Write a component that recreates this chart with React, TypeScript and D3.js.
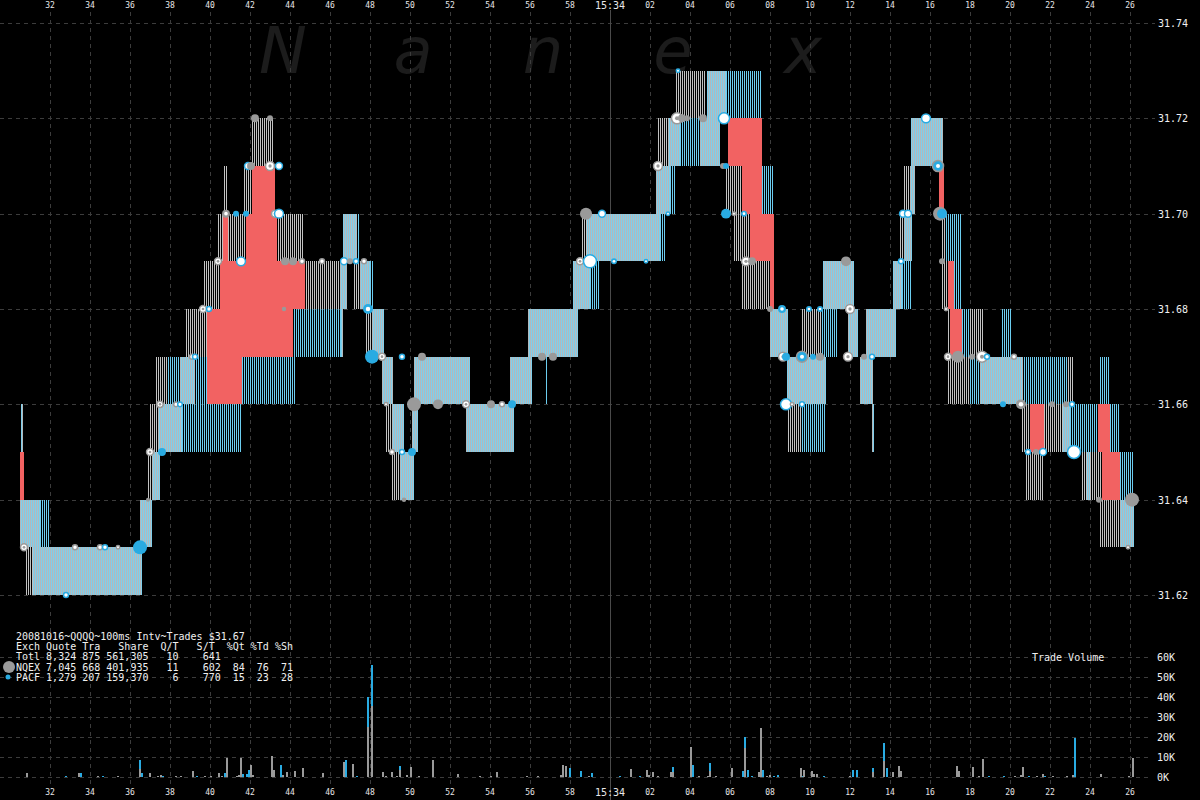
import React, { useEffect } from 'react';
import * as d3 from 'd3';

const W = 1200;
const H = 800;

// time = seconds after 15:33:00
const timeTicks = d3.range(32, 87, 2);
const priceTicks = [31.62, 31.64, 31.66, 31.68, 31.7, 31.72, 31.74];
const volumeTicks = [0, 10000, 20000, 30000, 40000, 50000, 60000];

// quote spreads: [tStart, tEnd, low, high, style]  S=dense, G=sparse NQEX, B=sparse PACF, R=crossed
const quotes: [number, number, number, number, string][] = [
  [30.5, 31.5, 31.63, 31.64, 'S'], [31.5, 32.0, 31.63, 31.64, 'B'],
  [30.55, 30.65, 31.65, 31.66, 'S'], [30.5, 30.7, 31.64, 31.65, 'R'],
  [30.8, 31.15, 31.62, 31.63, 'G'], [31.15, 36.6, 31.62, 31.63, 'S'],
  [36.5, 37.1, 31.63, 31.64, 'S'],
  [36.9, 37.1, 31.64, 31.65, 'G'], [37.1, 37.5, 31.64, 31.65, 'S'],
  [37.0, 37.4, 31.65, 31.66, 'G'], [37.4, 38.6, 31.65, 31.66, 'S'], [38.6, 41.6, 31.65, 31.66, 'B'],
  [37.25, 37.9, 31.66, 31.67, 'G'], [37.9, 38.5, 31.66, 31.67, 'B'], [38.5, 39.25, 31.66, 31.67, 'S'],
  [39.25, 39.85, 31.66, 31.67, 'B'],
  [39.85, 41.6, 31.66, 31.67, 'R'], [41.6, 44.25, 31.66, 31.67, 'B'],
  [38.75, 39.85, 31.67, 31.68, 'G'], [39.85, 44.15, 31.67, 31.68, 'R'], [44.15, 46.6, 31.67, 31.68, 'B'],
  [39.7, 40.5, 31.68, 31.69, 'G'], [40.5, 44.75, 31.68, 31.69, 'R'], [44.75, 46.75, 31.68, 31.69, 'G'],
  [40.4, 40.65, 31.69, 31.7, 'G'], [40.65, 40.9, 31.69, 31.7, 'R'], [40.9, 41.8, 31.69, 31.7, 'G'],
  [41.8, 43.35, 31.69, 31.7, 'R'], [43.35, 44.65, 31.69, 31.7, 'G'],
  [40.65, 40.85, 31.7, 31.71, 'G'], [41.7, 42.1, 31.7, 31.71, 'G'], [42.1, 43.25, 31.7, 31.71, 'R'],
  [42.1, 43.15, 31.71, 31.72, 'G'],
  [46.65, 47.35, 31.69, 31.7, 'S'], [47.35, 47.5, 31.69, 31.7, 'B'],
  [46.5, 46.85, 31.68, 31.69, 'S'], [47.2, 47.5, 31.68, 31.69, 'G'], [47.5, 48.0, 31.68, 31.69, 'S'],
  [48.0, 48.2, 31.68, 31.69, 'B'],
  [46.55, 46.65, 31.67, 31.68, 'S'], [47.8, 48.1, 31.67, 31.68, 'G'], [48.1, 48.7, 31.67, 31.68, 'S'],
  [48.6, 49.15, 31.66, 31.67, 'S'],
  [48.8, 49.1, 31.65, 31.66, 'G'], [49.1, 49.7, 31.65, 31.66, 'S'],
  [49.1, 49.5, 31.64, 31.65, 'G'], [49.5, 50.2, 31.64, 31.65, 'S'],
  [50.1, 50.4, 31.65, 31.66, 'S'],
  [50.2, 53.0, 31.66, 31.67, 'S'],
  [52.8, 55.2, 31.65, 31.66, 'S'],
  [55.0, 56.1, 31.66, 31.67, 'S'], [56.75, 56.85, 31.66, 31.67, 'B'],
  [55.9, 58.4, 31.67, 31.68, 'S'],
  [58.15, 59.0, 31.68, 31.69, 'S'], [59.0, 59.5, 31.68, 31.69, 'B'],
  [58.6, 58.85, 31.69, 31.7, 'G'], [58.85, 62.5, 31.69, 31.7, 'S'], [62.5, 62.8, 31.69, 31.7, 'B'],
  [62.3, 63.0, 31.7, 31.71, 'S'], [63.0, 63.3, 31.7, 31.71, 'B'],
  [62.4, 62.9, 31.71, 31.72, 'G'], [62.9, 63.5, 31.71, 31.72, 'S'], [63.5, 64.5, 31.71, 31.72, 'B'],
  [64.5, 65.5, 31.71, 31.72, 'S'],
  [63.3, 64.8, 31.72, 31.73, 'G'], [64.85, 65.8, 31.72, 31.73, 'S'], [65.8, 67.6, 31.72, 31.73, 'B'],
  [65.9, 67.6, 31.71, 31.72, 'R'],
  [65.8, 66.6, 31.7, 31.71, 'G'], [66.6, 67.6, 31.7, 31.71, 'R'], [67.6, 68.15, 31.7, 31.71, 'B'],
  [66.2, 67.0, 31.69, 31.7, 'G'], [67.0, 68.2, 31.69, 31.7, 'R'],
  [66.6, 68.0, 31.68, 31.69, 'G'], [68.0, 68.2, 31.68, 31.69, 'R'],
  [68.0, 68.9, 31.67, 31.68, 'S'],
  [68.85, 70.8, 31.66, 31.67, 'S'],
  [68.85, 69.6, 31.65, 31.66, 'G'], [69.6, 70.8, 31.65, 31.66, 'B'],
  [69.6, 70.6, 31.67, 31.68, 'G'], [70.6, 71.4, 31.67, 31.68, 'B'],
  [70.65, 72.2, 31.68, 31.69, 'S'],
  [71.9, 72.4, 31.67, 31.68, 'S'], [72.8, 74.3, 31.67, 31.68, 'S'],
  [72.5, 73.15, 31.66, 31.67, 'S'], [73.1, 73.2, 31.65, 31.66, 'S'],
  [74.15, 74.6, 31.68, 31.69, 'S'], [74.6, 75.1, 31.68, 31.69, 'B'],
  [74.5, 74.7, 31.69, 31.7, 'G'], [74.7, 75.1, 31.69, 31.7, 'S'],
  [74.7, 75.0, 31.7, 31.71, 'G'], [75.0, 75.25, 31.7, 31.71, 'S'],
  [75.05, 76.65, 31.71, 31.72, 'S'],
  [76.45, 76.7, 31.7, 31.71, 'R'],
  [76.6, 76.8, 31.69, 31.7, 'G'], [76.8, 77.6, 31.69, 31.7, 'B'],
  [76.6, 76.9, 31.68, 31.69, 'G'], [76.9, 77.2, 31.68, 31.69, 'R'], [77.2, 77.6, 31.68, 31.69, 'B'],
  [76.9, 77.0, 31.67, 31.68, 'G'], [77.0, 77.6, 31.67, 31.68, 'R'], [77.6, 78.0, 31.67, 31.68, 'B'],
  [78.0, 78.65, 31.67, 31.68, 'G'], [79.55, 80.1, 31.67, 31.68, 'B'],
  [76.9, 78.0, 31.66, 31.67, 'G'], [78.0, 78.5, 31.66, 31.67, 'B'], [78.5, 80.65, 31.66, 31.67, 'S'],
  [80.65, 82.85, 31.66, 31.67, 'B'], [82.85, 83.15, 31.66, 31.67, 'G'], [84.45, 85.0, 31.66, 31.67, 'B'],
  [80.6, 81.0, 31.65, 31.66, 'G'], [81.0, 81.7, 31.65, 31.66, 'R'], [81.7, 82.65, 31.65, 31.66, 'G'],
  [82.65, 83.0, 31.65, 31.66, 'S'], [83.0, 84.35, 31.65, 31.66, 'B'], [84.4, 85.0, 31.65, 31.66, 'R'],
  [85.0, 85.5, 31.65, 31.66, 'B'],
  [80.8, 81.65, 31.64, 31.65, 'G'], [83.6, 83.85, 31.64, 31.65, 'G'], [83.85, 84.0, 31.64, 31.65, 'S'],
  [84.0, 84.6, 31.64, 31.65, 'G'], [84.6, 85.5, 31.64, 31.65, 'R'], [85.5, 86.15, 31.64, 31.65, 'B'],
  [84.5, 85.5, 31.63, 31.64, 'G'], [85.5, 86.2, 31.63, 31.64, 'S'],
];

// trades: [time, price, kind, shares]
const trades: [number, number, string, number][] = [
  [30.7, 31.63, 'wg', 1600], [32.8, 31.62, 'wb', 900], [33.25, 31.63, 'wg', 900], [34.5, 31.63, 'wg', 900],
  [34.75, 31.63, 'wb', 900], [35.4, 31.63, 'wg', 500], [36.5, 31.63, 'b', 5000], [36.9, 31.64, 'g', 400],
  [37.0, 31.65, 'wg', 1600], [37.6, 31.65, 'b', 1600], [37.5, 31.66, 'wg', 1400], [38.3, 31.66, 'wg', 800],
  [38.5, 31.66, 'wb', 800], [39.1, 31.67, 'wg', 900], [39.25, 31.67, 'wb', 900], [39.65, 31.68, 'wg', 1600],
  [39.95, 31.68, 'wb', 900], [40.4, 31.69, 'wg', 1600], [41.55, 31.69, 'wb', 2500], [40.8, 31.7, 'gw', 1600],
  [41.3, 31.7, 'b', 900], [41.8, 31.7, 'b', 900], [43.25, 31.7, 'wg', 1600], [43.45, 31.7, 'wb', 2500],
  [41.9, 31.71, 'wb', 1600], [42.05, 31.71, 'g', 1600], [43.0, 31.71, 'wg', 2500], [43.45, 31.71, 'wb', 1600],
  [42.25, 31.72, 'g', 1600], [43.0, 31.72, 'g', 900], [43.75, 31.69, 'g', 1600], [44.15, 31.69, 'g', 1600],
  [44.6, 31.69, 'wg', 900], [45.6, 31.69, 'wg', 900], [46.7, 31.69, 'wb', 1600], [47.0, 31.69, 'g', 900],
  [47.3, 31.69, 'wb', 900], [47.7, 31.69, 'wg', 900], [43.7, 31.68, 'g', 500], [47.9, 31.68, 'bw', 2500],
  [48.1, 31.67, 'b', 5000], [48.6, 31.67, 'wg', 1600], [49.6, 31.67, 'wb', 900], [50.6, 31.67, 'g', 1600],
  [48.8, 31.66, 'wg', 500], [50.2, 31.66, 'g', 5000], [51.4, 31.66, 'g', 2500], [52.8, 31.66, 'wg', 1600],
  [54.05, 31.66, 'g', 1600], [54.6, 31.66, 'wg', 900], [55.1, 31.66, 'b', 1600], [49.1, 31.65, 'wg', 900],
  [49.6, 31.65, 'wb', 900], [50.1, 31.65, 'b', 1600], [49.7, 31.64, 'g', 500], [56.6, 31.67, 'g', 1600],
  [57.15, 31.67, 'g', 1600], [58.8, 31.7, 'g', 3700], [59.6, 31.7, 'wb', 1600], [58.5, 31.69, 'wg', 1600],
  [59.0, 31.69, 'wb', 5000], [60.2, 31.69, 'bw', 900], [61.8, 31.69, 'wb', 500],
  [62.9, 31.7, 'wb', 500], [62.4, 31.71, 'wg', 2500], [63.4, 31.73, 'wb', 500], [63.35, 31.72, 'wg', 3700],
  [63.6, 31.72, 'g', 1600], [63.85, 31.72, 'g', 900], [64.65, 31.72, 'g', 1600], [65.7, 31.72, 'wb', 3700],
  [65.65, 31.71, 'g', 900], [65.8, 31.71, 'b', 900], [65.8, 31.7, 'b', 2500], [66.2, 31.7, 'wg', 500],
  [66.7, 31.7, 'bw', 900], [66.8, 31.69, 'wg', 2500], [67.1, 31.69, 'g', 1600], [68.0, 31.68, 'g', 900],
  [68.6, 31.68, 'bw', 1600], [68.65, 31.67, 'wg', 2500], [68.8, 31.67, 'b', 1600], [69.6, 31.67, 'bg', 3700],
  [70.15, 31.67, 'b', 900], [70.5, 31.67, 'g', 1600], [69.95, 31.68, 'bw', 900], [70.5, 31.68, 'bw', 900],
  [71.8, 31.69, 'g', 2500], [72.0, 31.68, 'wg', 2500], [68.8, 31.66, 'wb', 3700], [69.1, 31.66, 'wg', 500],
  [69.6, 31.66, 'wb', 900], [71.9, 31.67, 'wg', 2500], [72.7, 31.67, 'g', 900], [73.1, 31.67, 'wb', 900],
  [75.8, 31.72, 'wb', 2500], [76.4, 31.71, 'bg', 3700], [74.65, 31.7, 'wb', 1600], [74.9, 31.7, 'wb', 1600],
  [76.5, 31.7, 'g', 5000], [76.6, 31.7, 'b', 2500], [74.55, 31.69, 'wb', 900], [76.6, 31.69, 'g', 900],
  [76.8, 31.68, 'wg', 500], [76.9, 31.67, 'wg', 1600], [77.4, 31.67, 'g', 3700], [78.1, 31.67, 'g', 900],
  [78.6, 31.67, 'wg', 3700], [78.85, 31.67, 'wb', 900], [80.2, 31.67, 'wg', 900], [79.65, 31.66, 'b', 900],
  [80.55, 31.66, 'gw', 2500], [82.1, 31.66, 'g', 900], [82.8, 31.66, 'g', 900], [83.1, 31.66, 'wb', 900],
  [80.9, 31.65, 'wb', 900], [81.3, 31.65, 'g', 900], [81.65, 31.65, 'wb', 1600], [83.2, 31.65, 'wb', 5000],
  [84.45, 31.64, 'g', 900], [86.1, 31.64, 'g', 5000], [85.9, 31.63, 'wg', 500],
];

// volume per 100ms interval: [time, NQEX shares, PACF shares]
const volumes: [number, number, number][] = [
  [30.85, 1800, 0], [32.8, 0, 300], [33.45, 1800, 0], [33.55, 0, 1800], [34.4, 300, 0], [34.65, 0, 300],
  [35.4, 300, 0], [36.5, 4000, 4500], [36.6, 0, 2000], [37.0, 2000, 0], [37.4, 700, 0], [37.55, 1000, 0],
  [37.65, 0, 300], [38.3, 300, 0], [38.55, 300, 0], [39.15, 3200, 0], [39.35, 0, 300], [39.75, 500, 0],
  [40.05, 600, 0], [40.45, 2000, 0], [40.6, 700, 0], [40.75, 0, 1800], [40.85, 9700, 0], [41.35, 300, 0],
  [41.45, 1000, 0], [41.55, 9700, 0], [41.65, 0, 1700], [41.85, 0, 1700], [41.95, 0, 3300], [42.05, 6000, 0],
  [42.15, 1000, 0], [43.1, 10500, 0], [43.2, 3300, 0], [43.55, 0, 6000], [43.65, 1000, 0], [43.85, 2500, 0],
  [44.25, 3000, 0], [44.65, 4700, 0], [45.65, 2000, 0], [46.7, 7700, 0], [46.8, 0, 8300], [47.15, 6300, 0],
  [47.35, 0, 700], [47.9, 25000, 15000], [48.1, 35500, 20500], [48.65, 2300, 0], [48.8, 300, 0],
  [49.1, 2500, 0], [49.35, 300, 0], [49.5, 3500, 2000], [49.85, 1000, 0], [50.05, 4800, 0], [50.45, 300, 0],
  [51.15, 8500, 0], [52.4, 1500, 0], [53.5, 300, 0], [54.05, 300, 0], [54.35, 2500, 0], [55.85, 300, 0],
  [56.4, 300, 0], [57.55, 1000, 0], [57.65, 6000, 0], [57.8, 5700, 0], [58.0, 0, 4700], [58.55, 0, 2800],
  [58.95, 300, 0], [59.1, 0, 2200], [60.5, 0, 300], [61.05, 4000, 0], [61.5, 0, 300], [61.85, 3700, 0],
  [61.95, 1200, 0], [62.15, 2300, 0], [62.4, 300, 0], [63.05, 2700, 0], [63.15, 2700, 2300],
  [64.05, 15000, 0], [64.15, 0, 6000], [64.45, 700, 0], [64.9, 300, 0], [65.0, 2800, 4200], [65.3, 300, 0],
  [66.1, 4500, 0], [66.65, 0, 3000], [66.75, 14500, 5500], [66.9, 0, 3700], [67.1, 0, 300], [67.45, 2500, 0],
  [67.55, 24500, 0], [67.65, 0, 3700], [67.85, 300, 0], [68.0, 1000, 0], [68.2, 0, 700], [68.4, 0, 1000],
  [69.55, 4500, 0], [69.65, 0, 300], [69.7, 3700, 0], [70.1, 3000, 0], [70.2, 1500, 0], [70.35, 1500, 0],
  [70.7, 0, 300], [72.0, 300, 0], [72.15, 0, 3700], [72.35, 0, 3300], [73.15, 2300, 2300], [73.7, 8000, 9000],
  [73.85, 0, 4700], [74.15, 2300, 0], [74.45, 5700, 0], [74.55, 3000, 0], [77.35, 5500, 0], [77.45, 3000, 0],
  [78.15, 5000, 0], [78.45, 300, 0], [78.65, 9000, 0], [78.95, 0, 300], [79.7, 0, 300], [80.25, 300, 0],
  [80.55, 1200, 0], [80.65, 5000, 0], [80.95, 0, 700], [81.35, 300, 0], [81.65, 1400, 0], [81.75, 0, 700],
  [82.15, 300, 0], [82.85, 500, 0], [83.15, 900, 0], [83.25, 0, 19500], [84.55, 1400, 0], [85.95, 300, 0],
  [86.15, 9500, 0],
];

const legendLines = [
  '20081016~QQQQ~100ms Intv~Trades $31.67',
  'Exch Quote Tra   Share  Q/T   S/T  %Qt %Td %Sh',
  'Totl 8,324 875 561,305   10    641',
  'NQEX 7,045 668 401,935   11    602  84  76  71',
  'PACF 1,279 207 159,370    6    770  15  23  28',
];

const watermark = ['N', 'a', 'n', 'e', 'x'];

const GRAY = '#9a9a9a';
const BLUE = '#29abe2';
const RED = '#f26262';
const GRID = '#3c3c3c';
const STRIPE_GRAY = '#b3b9bc';
const STRIPE_BLUE = '#7fcfec';
const SPARSE_GRAY = '#c2c2c2';
const SPARSE_BLUE = '#6ccdf0';
const MONO = '"DejaVu Sans Mono", "Liberation Mono", monospace';

const x = d3.scaleLinear().domain([32, 86]).range([50, 1130]);
const y = d3.scaleLinear().domain([31.62, 31.74]).range([595, 23]);
const yv = d3.scaleLinear().domain([0, 60000]).range([777, 657]);
const r = d3.scaleSqrt().domain([0, 5000]).range([0, 7]);

function timeLabel(t: number) {
  if (t === 60) return '15:34';
  if (t < 60) return String(t);
  return String(t - 60).padStart(2, '0');
}

export default function App() {
  useEffect(() => {
    document.body.style.margin = '0';
    document.body.style.background = '#000';
  }, []);

  const quoteMark = (q: [number, number, number, number, string], i: number) => {
    const x0 = Math.round(x(q[0]));
    const x1 = Math.max(x0 + 1, Math.round(x(q[1])));
    const y0 = Math.round(y(q[3]));
    const y1 = Math.round(y(q[2]));
    const h = y1 - y0;
    const s = q[4];
    if (s === 'R') return <rect key={'q' + i} x={x0} y={y0} width={x1 - x0} height={h} fill={RED} />;
    const cols = d3.range(x0, x1);
    if (s === 'S')
      return (
        <g key={'q' + i}>
          <rect x={x0} y={y0} width={x1 - x0} height={h} fill={STRIPE_GRAY} />
          {cols.filter((c) => c % 2 === 1).map((c) => (
            <rect key={c} x={c} y={y0} width={1} height={h} fill={STRIPE_BLUE} />
          ))}
        </g>
      );
    const col = s === 'G' ? SPARSE_GRAY : SPARSE_BLUE;
    const list = cols.filter((c) => c % 2 === 0);
    if (list.length === 0) list.push(x0);
    return (
      <g key={'q' + i}>
        {list.map((c) => (
          <rect key={c} x={c} y={y0} width={1} height={h} fill={col} />
        ))}
      </g>
    );
  };

  const dot = (d: [number, number, string, number], i: number) => {
    const cx = x(d[0]);
    const cy = y(d[1]);
    const rr = Math.max(2, r(d[3]));
    const k = d[2];
    if (k === 'g') return <circle key={i} cx={cx} cy={cy} r={rr} fill={GRAY} />;
    if (k === 'b') return <circle key={i} cx={cx} cy={cy} r={rr} fill={BLUE} />;
    if (k === 'wb') return <circle key={i} cx={cx} cy={cy} r={rr - 0.5} fill="#fff" stroke={BLUE} strokeWidth={1.5} />;
    if (k === 'wg')
      return (
        <g key={i}>
          <circle cx={cx} cy={cy} r={rr - 0.5} fill="#fff" stroke={GRAY} strokeWidth={1.5} />
          {rr > 3 && <circle cx={cx} cy={cy} r={rr / 3} fill={GRAY} />}
        </g>
      );
    if (k === 'bw')
      return (
        <g key={i}>
          <circle cx={cx} cy={cy} r={rr} fill={BLUE} />
          <circle cx={cx} cy={cy} r={rr / 2.2} fill="#fff" />
        </g>
      );
    if (k === 'gw')
      return (
        <g key={i}>
          <circle cx={cx} cy={cy} r={rr} fill={GRAY} />
          <circle cx={cx} cy={cy} r={rr / 2.2} fill="#fff" />
        </g>
      );
    return (
      <g key={i}>
        <circle cx={cx} cy={cy} r={rr - 0.5} fill={BLUE} stroke={GRAY} strokeWidth={1.5} />
        <circle cx={cx} cy={cy} r={rr / 3} fill="#fff" />
      </g>
    );
  };

  return (
    <svg
      width={W}
      height={H}
      style={{ position: 'absolute', left: 0, top: 0, display: 'block', background: '#000' }}
    >
      <rect x={0} y={0} width={W} height={H} fill="#000" />

      {/* watermark */}
      {watermark.map((c, i) => (
        <text
          key={i}
          x={283 + i * 130}
          y={73}
          textAnchor="middle"
          fontFamily='"DejaVu Sans", sans-serif'
          fontStyle="italic"
          fontSize={64}
          fill="#1c1c1c"
        >
          {c}
        </text>
      ))}

      {/* grid */}
      <g stroke={GRID} strokeWidth={1} strokeDasharray="4,4" shapeRendering="crispEdges">
        {timeTicks.filter((t) => t !== 60).map((t) => (
          <line key={'v' + t} x1={x(t) + 0.5} x2={x(t) + 0.5} y1={12} y2={785} />
        ))}
        {priceTicks.map((p) => (
          <line key={'h' + p} x1={0} x2={1155} y1={Math.round(y(p)) + 0.5} y2={Math.round(y(p)) + 0.5} />
        ))}
        {volumeTicks.map((v) => (
          <line key={'hv' + v} x1={0} x2={1150} y1={Math.round(yv(v)) + 0.5} y2={Math.round(yv(v)) + 0.5} />
        ))}
      </g>
      <line x1={x(60) + 0.5} x2={x(60) + 0.5} y1={10} y2={800} stroke="#4a4a4a" strokeWidth={1} />

      {/* quotes */}
      <g shapeRendering="crispEdges">
        {quotes.filter((q) => q[4] !== 'R').map(quoteMark)}
        {quotes.filter((q) => q[4] === 'R').map((q, i) => quoteMark(q, 1000 + i))}
      </g>

      {/* trades */}
      <g>{trades.map(dot)}</g>

      {/* volume bars */}
      <g shapeRendering="crispEdges">
        {volumes.map((v, i) => {
          const bx = Math.round(x(v[0])) - 1;
          return (
            <g key={i}>
              {v[1] > 0 && <rect x={bx} y={yv(v[1])} width={2} height={yv(0) - yv(v[1])} fill={GRAY} />}
              {v[2] > 0 && (
                <rect x={bx} y={yv(v[1] + v[2])} width={2} height={yv(v[1]) - yv(v[1] + v[2])} fill={BLUE} />
              )}
            </g>
          );
        })}
      </g>

      {/* time axis labels */}
      {timeTicks.map((t) => (
        <g key={'tl' + t} fontFamily={MONO} fill="#e8e8e8" textAnchor="middle">
          <text x={x(t)} y={t === 60 ? 9 : 8} fontSize={t === 60 ? 10 : 8}>
            {timeLabel(t)}
          </text>
          <text x={x(t)} y={t === 60 ? 796 : 795} fontSize={t === 60 ? 10 : 8}>
            {timeLabel(t)}
          </text>
        </g>
      ))}

      {/* price axis */}
      {priceTicks.map((p) => (
        <text key={'pl' + p} x={1158} y={y(p) + 4} fontFamily={MONO} fontSize={10} fill="#f0f0f0">
          {p.toFixed(2)}
        </text>
      ))}

      {/* volume axis */}
      {volumeTicks.map((v) => (
        <text key={'vl' + v} x={1157} y={yv(v) + 4} fontFamily={MONO} fontSize={10} fill="#f0f0f0">
          {v / 1000 + 'K'}
        </text>
      ))}
      <text x={1032} y={661} fontFamily={MONO} fontSize={10} fill="#f0f0f0">
        Trade Volume
      </text>

      {/* legend */}
      {legendLines.map((l, i) => (
        <text
          key={'lg' + i}
          x={16}
          y={640 + i * 10.2}
          fontFamily={MONO}
          fontSize={10}
          fill="#f0f0f0"
          style={{ whiteSpace: 'pre' }}
        >
          {l}
        </text>
      ))}
      <circle cx={9} cy={667} r={6} fill={GRAY} />
      <circle cx={8} cy={677} r={2.5} fill={BLUE} />
    </svg>
  );
}
